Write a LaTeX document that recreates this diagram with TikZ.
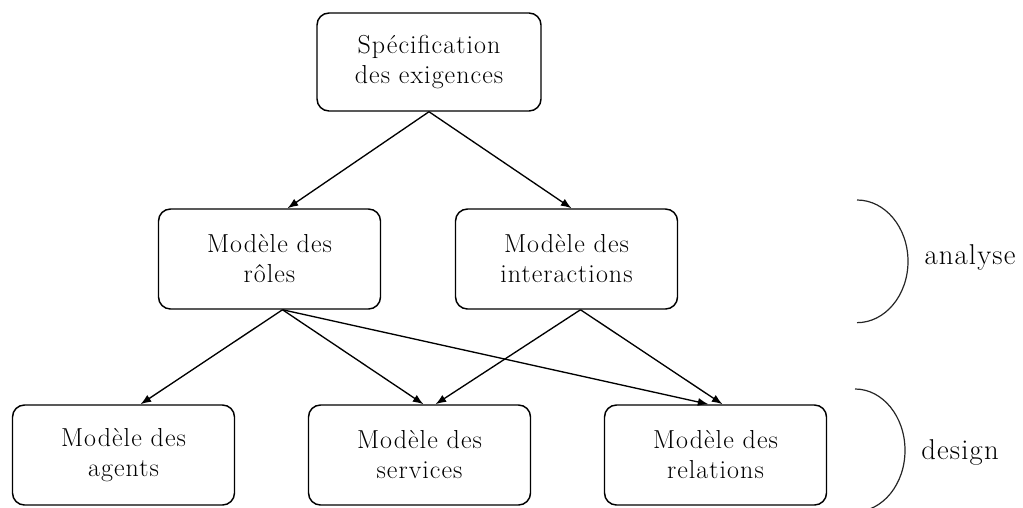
\documentclass[tikz,border=0pt]{standalone}
\usepackage{fontspec}
\setmainfont{Latin Modern Roman}[LetterSpace=4]
\usetikzlibrary{arrows.meta}
\begin{document}
\begin{tikzpicture}[x=0.75pt,y=-0.75pt,
  box/.style={draw, line width=1.1pt, rounded corners=9pt, minimum width=166.5pt,
    minimum height=75pt, align=center, inner sep=0pt,
    font=\fontsize{19.5}{22.5}\selectfont},
  arr/.style={-{Latex[length=8pt,width=6pt]}, line width=1pt},
  bracearc/.style={line width=0.9pt, draw=black!85},
  lab/.style={font=\fontsize{21.5}{25}\selectfont, inner sep=0pt}]
\clip (0,0) rectangle (1023,507);
% nodes
\node[box, minimum width=168pt, minimum height=73.5pt] (top) at (429,62) {Spécification\\des exigences};
\node[box] (ml) at (269.5,259) {Modèle des\\rôles};
\node[box] (mr) at (566.5,259) {Modèle des\\interactions};
\node[box] (bl) at (123.5,455) {Modèle des\\agents};
\node[box] (bm) at (419.5,455) {Modèle des\\services};
\node[box] (br) at (715.5,455) {Modèle des\\relations};
% connectors
\draw[arr] (top.south) -- ([xshift=13.5pt]ml.north);
\draw[arr] (top.south) -- ([xshift=3.75pt]mr.north);
\draw[arr] ([xshift=9.75pt]ml.south) -- ([xshift=12.75pt]bl.north);
\draw[arr] ([xshift=9.75pt]ml.south) -- ([xshift=3pt]bm.north);
\draw[arr] ([xshift=9.75pt]ml.south) -- ([xshift=-5.25pt]br.north);
\draw[arr] ([xshift=10.5pt]mr.south) -- ([xshift=12pt]bm.north);
\draw[arr] ([xshift=10.5pt]mr.south) -- ([xshift=5.25pt]br.north);
% phase brackets
\coordinate (a1) at (857,200);
\coordinate (d1) at (855,389);
\draw[bracearc] (a1) arc[start angle=90, end angle=-90, x radius=38.25pt, y radius=46pt];
\draw[bracearc] (d1) arc[start angle=90, end angle=-90, x radius=37.5pt, y radius=46pt];
\node[lab] (analyse) at (970,257) {analyse};
\node[lab] (design) at (960,452) {design};
\end{tikzpicture}
\end{document}
